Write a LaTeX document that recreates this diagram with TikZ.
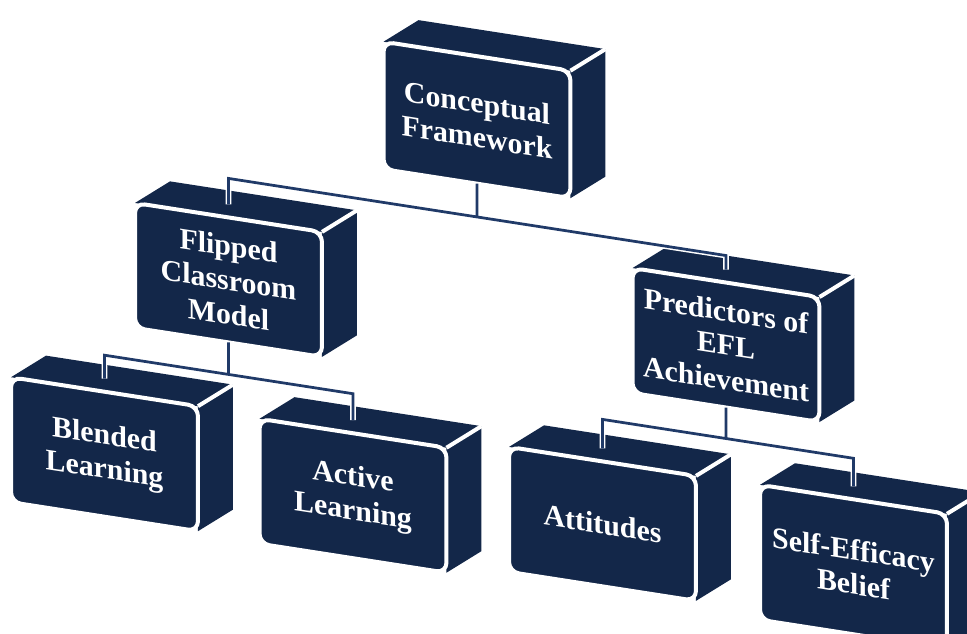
\documentclass[tikz,border=0pt]{standalone}
\usepackage{fontspec}
\setmainfont{Liberation Serif}
\usetikzlibrary{calc}
\usetikzlibrary{backgrounds}
\definecolor{boxnavy}{RGB}{19,39,73}
\definecolor{linknavy}{RGB}{32,58,104}
\tikzset{
    box/.style = {rectangle, rounded corners=0.2cm, draw=white, line width=0.08cm, fill=boxnavy, text=white, align=center, outer sep=0pt, minimum width=3.74cm, minimum height=2.5cm, font=\bfseries\fontsize{17}{19.5}\selectfont, transform shape},
    boxside/.style = {fill=boxnavy},
    boxedge/.style = {draw=white, line width=0.08cm},
    link/.style = {draw=white, line width=0.03cm, double=linknavy, double distance=0.055cm}
}
\begin{document}
\begin{tikzpicture}[x=0.02cm, y=-0.02cm]
\useasboundingbox (0,0) rectangle (967,633);
\begin{scope}[on background layer]
\fill[white] (0,0) rectangle (967,633);
\end{scope}
\begin{scope}[yslant=-0.155]
%
\node[box, minimum height=2.55cm] at (477, 46) (concept) {Conceptual\\Framework};
\node[box] at (228.5, 244.5) (flip) {Flipped\\Classroom\\Model};
\node[box] at (726, 232.5) (pred) {Predictors of\\EFL\\Achievement};
\node[box] at (104.5, 438) (blend) {Blended\\Learning};
\node[box] at (353, 441) (active) {Active\\Learning};
\node[box] at (602.5, 430.5) (att) {Attitudes};
\node[box, minimum height=2.7cm] at (853.5, 434.5) (self) {Self-Efficacy\\Belief};
%
\begin{scope}[on background layer]
\foreach \n in {concept,flip,pred,blend,active,att,self}{
  \fill[boxside] (\n.north west) -- ++(35,-27) -- ($(\n.north east)+(35,-27)$) -- ($(\n.south east)+(35,-27)$) -- (\n.south east) -- (\n.north east) -- cycle;
  \draw[boxedge] (\n.north east) -- ++(35,-27);
}
\end{scope}
%
\coordinate (hubC) at (477, 143);
\coordinate (hubCL) at (228.5, 143);
\coordinate (hubCR) at (726, 143);
\coordinate (hubF) at (228.5, 339);
\coordinate (hubFL) at (104.5, 339);
\coordinate (hubFR) at (353, 339);
\coordinate (hubP) at (726, 326);
\coordinate (hubPL) at (602.5, 326);
\coordinate (hubPR) at (853.5, 326);
%
\draw[link] (concept.south) -- (hubC) ($(flip.north)+(0,-13)$) -- (hubCL) -- (hubCR) -- ($(pred.north)+(0,-13)$);
\draw[link] (flip.south) -- (hubF) ($(blend.north)+(0,-13)$) -- (hubFL) -- (hubFR) -- ($(active.north)+(0,-13)$);
\draw[link] (pred.south) -- (hubP) ($(att.north)+(0,-13)$) -- (hubPL) -- (hubPR) -- ($(self.north)+(0,-13)$);
\end{scope}
\end{tikzpicture}
\end{document}
